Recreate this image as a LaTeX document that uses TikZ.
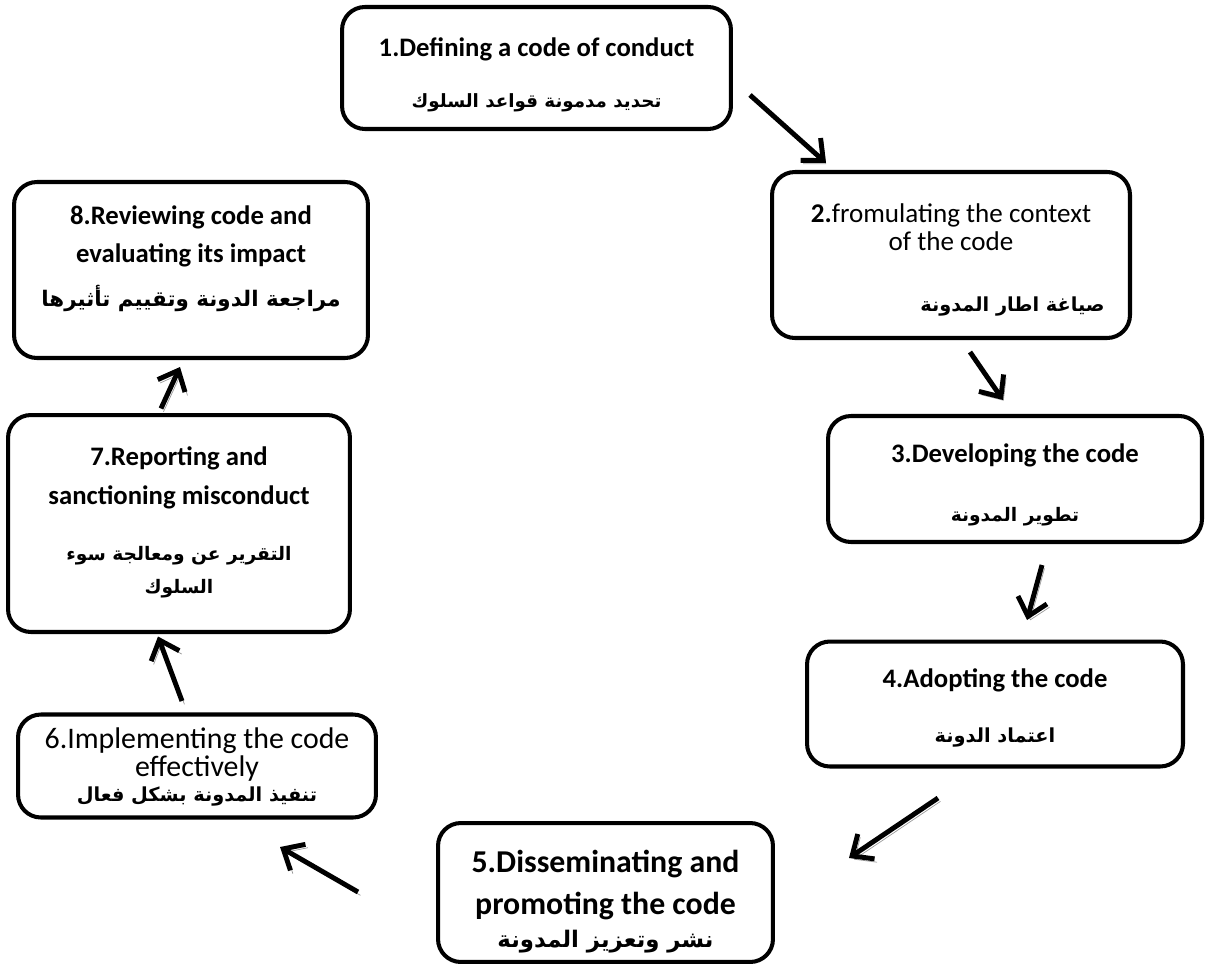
\documentclass[tikz,border=0pt]{standalone}
\usepackage{fontspec}
\setmainfont{Carlito}
\newfontfamily\arabicfont[Script=Arabic]{DejaVu Sans}
\TeXXeTstate=1
\usetikzlibrary{arrows.meta,calc}
\newcommand{\arf}[1]{\fontsize{#1}{#1}\selectfont\arabicfont\bfseries}

\begin{document}
\begin{tikzpicture}[x=0.02cm,y=-0.02cm,
    box/.style={draw,line width=2.3pt,rounded corners=13pt,inner sep=0pt},
    txt/.style={align=center,inner sep=0pt,font=\fontsize{15.2}{16}\selectfont\bfseries},
    flow/.style={line width=2.8pt,-{Straight Barb[length=3.4mm,width=6mm]},
        preaction={draw=black!40,transform canvas={shift={(1.4pt,-1.9pt)}}}}]
    \useasboundingbox (0,0) rectangle (1206,963);
    % the eight steps
    \node[box,minimum width=7.78cm,minimum height=2.44cm] (def) at (536.5,68) {};
    \node[box,minimum width=7.16cm,minimum height=3.32cm] (form) at (951,255) {};
    \node[box,minimum width=7.48cm,minimum height=2.52cm] (dev) at (1015,479) {};
    \node[box,minimum width=7.52cm,minimum height=2.5cm] (adopt) at (995,704) {};
    \node[box,minimum width=6.7cm,minimum height=2.78cm] (dissem) at (605.5,892.5) {};
    \node[box,minimum width=7.16cm,minimum height=2.06cm] (impl) at (197,766) {};
    \node[box,minimum width=6.84cm,minimum height=4.34cm] (report) at (179,523.5) {};
    \node[box,minimum width=7.08cm,minimum height=3.52cm] (review) at (191,270) {};
    % their texts
    \node[txt] (def-t) at ($(def)+(0,7)$)
        {1.Defining a code of conduct\\[13pt]{\arf{10.4}\beginR تحديد مدمونة قواعد السلوك\endR}};
    \node[txt,font=\fontsize{15.4}{16}\selectfont] (form-t) at ($(form)+(0,5)$)
        {{\bfseries 2.}fromulating the context\\of the code\\[18.5pt]\hspace*{70pt}{\arf{11}\beginR صياغة اطار المدونة\endR}};
    \node[txt] (dev-t) at ($(dev)+(0,6)$)
        {3.Developing the code\\[18pt]{\arf{10.6}\beginR تطوير المدونة\endR}};
    \node[txt] (adopt-t) at ($(adopt)+(0,4)$)
        {4.Adopting the code\\[15pt]{\arf{11}\beginR اعتماد الدونة\endR}};
    \node[txt,font=\fontsize{18.1}{19}\selectfont\bfseries] (dissem-t) at ($(dissem)+(0,9)$)
        {5.Disseminating and\\[4.8pt]promoting the code\\[0pt]{\arf{13}\beginR نشر وتعزيز المدونة\endR}};
    \node[txt,font=\fontsize{17}{16}\selectfont] (impl-t) at ($(impl)+(0,1)$)
        {6.Implementing the code\\effectively\\[-1.5pt]{\arf{11}\beginR تنفيذ المدونة بشكل فعال\endR}};
    \node[txt] (report-t) at ($(report)+(0,-1)$)
        {7.Reporting and\\[6pt]sanctioning misconduct\\[16pt]{\arf{10.6}\beginR التقرير عن ومعالجة سوء\endR}\\[3pt]{\arf{10.6}\beginR السلوك\endR}};
    \node[txt] (review-t) at ($(review)+(0,-11)$)
        {8.Reviewing code and\\[5.5pt]evaluating its impact\\[9pt]{\arf{12.2}\beginR مراجعة الدونة وتقييم تأثيرها\endR}};
    % arrows between the steps
    \draw[flow] ($(def.east)+(17,27)$) -- ($(form.north west)+(56,-7)$);
    \draw[flow] ($(form.south)+(19,12)$) -- ($(dev.north)+(-12,-14)$);
    \draw[flow] ($(dev.south)+(27,21)$) -- ($(adopt.north)+(32,-19.5)$);
    \draw[flow] ($(adopt.south)+(-57,29.5)$) -- ($(dissem.east)+(74,-34.5)$);
    \draw[flow] ($(dissem.west)+(-78,-0.5)$) -- ($(impl.south)+(83,27.5)$);
    \draw[flow] ($(impl.north)+(-15,-11.5)$) -- ($(report.south)+(-21,2.5)$);
    \draw[flow] ($(report.north)+(-18,-4.5)$) -- ($(review.south)+(-11,7)$);
\end{tikzpicture}
\end{document}
